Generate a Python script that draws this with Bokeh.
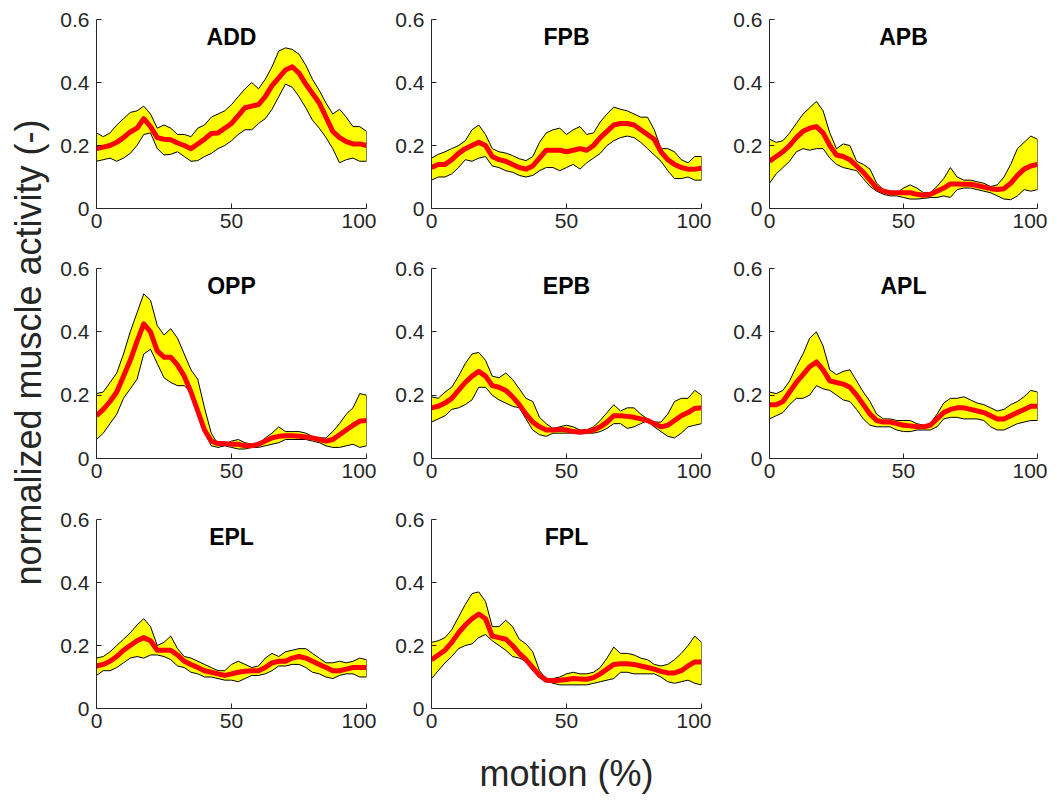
import math
from bokeh.plotting import figure
from bokeh.models import Range1d, FixedTicker, Label
from bokeh.layouts import column, row
from bokeh.embed import file_html
from bokeh.resources import INLINE

# ---------------- data ----------------
x_pct = [0, 2.5, 5, 7.5, 10, 12.5, 15, 17.5, 20, 22.5, 25, 27.5, 30, 32.5, 35, 37.5, 40,
         42.5, 45, 47.5, 50, 52.5, 55, 57.5, 60, 62.5, 65, 67.5, 70, 72.5, 75, 77.5, 80,
         82.5, 85, 87.5, 90, 92.5, 95, 97.5, 100]

muscles = ["ADD", "FPB", "APB", "OPP", "EPB", "APL", "EPL", "FPL"]

ADD_mean = [0.19, 0.195, 0.20, 0.21, 0.225, 0.243, 0.255, 0.285, 0.26, 0.225, 0.22, 0.218, 0.208, 0.20,
            0.19, 0.205, 0.22, 0.238, 0.24, 0.255, 0.27, 0.295, 0.32, 0.325, 0.33, 0.355, 0.39, 0.415,
            0.44, 0.45, 0.43, 0.395, 0.365, 0.335, 0.29, 0.245, 0.225, 0.212, 0.205, 0.205, 0.20]
ADD_upper = [0.24, 0.228, 0.24, 0.265, 0.285, 0.305, 0.31, 0.325, 0.30, 0.255, 0.265, 0.255, 0.235, 0.235,
             0.228, 0.255, 0.265, 0.29, 0.30, 0.31, 0.33, 0.355, 0.38, 0.40, 0.38, 0.41, 0.45, 0.50,
             0.51, 0.505, 0.49, 0.455, 0.41, 0.375, 0.335, 0.30, 0.315, 0.29, 0.26, 0.26, 0.245]
ADD_lower = [0.15, 0.155, 0.16, 0.15, 0.16, 0.175, 0.20, 0.235, 0.24, 0.19, 0.17, 0.172, 0.18, 0.165,
             0.15, 0.152, 0.165, 0.175, 0.19, 0.20, 0.215, 0.235, 0.25, 0.25, 0.27, 0.285, 0.315, 0.355,
             0.395, 0.385, 0.355, 0.32, 0.28, 0.255, 0.225, 0.19, 0.145, 0.155, 0.16, 0.15, 0.15]

FPB_mean = [0.13, 0.14, 0.14, 0.155, 0.175, 0.19, 0.20, 0.21, 0.20, 0.165, 0.155, 0.15, 0.14, 0.13,
            0.125, 0.135, 0.16, 0.185, 0.185, 0.185, 0.18, 0.185, 0.19, 0.185, 0.20, 0.225, 0.245, 0.265,
            0.27, 0.27, 0.265, 0.25, 0.235, 0.22, 0.18, 0.155, 0.14, 0.13, 0.125, 0.125, 0.128]
FPB_upper = [0.16, 0.172, 0.18, 0.19, 0.20, 0.215, 0.25, 0.265, 0.235, 0.19, 0.18, 0.176, 0.168, 0.158,
             0.152, 0.165, 0.21, 0.24, 0.25, 0.255, 0.235, 0.25, 0.26, 0.235, 0.24, 0.275, 0.30, 0.322,
             0.315, 0.31, 0.30, 0.29, 0.29, 0.25, 0.19, 0.19, 0.18, 0.155, 0.145, 0.165, 0.165]
FPB_lower = [0.09, 0.10, 0.10, 0.11, 0.13, 0.155, 0.15, 0.16, 0.165, 0.135, 0.13, 0.12, 0.115, 0.105,
             0.10, 0.105, 0.12, 0.13, 0.13, 0.12, 0.13, 0.14, 0.125, 0.145, 0.16, 0.175, 0.20, 0.215,
             0.225, 0.23, 0.225, 0.21, 0.19, 0.17, 0.15, 0.12, 0.095, 0.095, 0.10, 0.09, 0.09]

APB_mean = [0.15, 0.165, 0.18, 0.20, 0.225, 0.245, 0.255, 0.26, 0.24, 0.20, 0.17, 0.165, 0.155, 0.135,
            0.115, 0.09, 0.065, 0.055, 0.05, 0.05, 0.05, 0.05, 0.045, 0.042, 0.045, 0.055, 0.065, 0.078,
            0.078, 0.077, 0.077, 0.073, 0.068, 0.063, 0.06, 0.063, 0.08, 0.105, 0.125, 0.135, 0.14]
APB_upper = [0.22, 0.21, 0.215, 0.24, 0.27, 0.30, 0.32, 0.34, 0.31, 0.24, 0.19, 0.205, 0.20, 0.15,
             0.14, 0.125, 0.08, 0.06, 0.05, 0.05, 0.065, 0.075, 0.065, 0.05, 0.05, 0.07, 0.095, 0.13,
             0.10, 0.09, 0.09, 0.085, 0.08, 0.07, 0.075, 0.10, 0.14, 0.19, 0.21, 0.23, 0.22]
APB_lower = [0.08, 0.11, 0.13, 0.15, 0.18, 0.19, 0.185, 0.19, 0.19, 0.16, 0.14, 0.13, 0.125, 0.12,
             0.095, 0.07, 0.055, 0.045, 0.04, 0.04, 0.035, 0.03, 0.03, 0.032, 0.035, 0.035, 0.04, 0.035,
             0.06, 0.065, 0.065, 0.06, 0.055, 0.05, 0.04, 0.03, 0.028, 0.04, 0.06, 0.055, 0.06]

OPP_mean = [0.135, 0.155, 0.18, 0.21, 0.26, 0.31, 0.37, 0.425, 0.40, 0.34, 0.32, 0.32, 0.295, 0.26,
            0.21, 0.15, 0.09, 0.055, 0.047, 0.047, 0.045, 0.045, 0.04, 0.04, 0.045, 0.055, 0.065, 0.07,
            0.072, 0.072, 0.07, 0.068, 0.065, 0.06, 0.055, 0.06, 0.075, 0.09, 0.105, 0.118, 0.12]
OPP_upper = [0.205, 0.21, 0.24, 0.27, 0.33, 0.40, 0.46, 0.52, 0.50, 0.42, 0.39, 0.41, 0.38, 0.33,
             0.28, 0.25, 0.16, 0.08, 0.045, 0.045, 0.055, 0.06, 0.05, 0.045, 0.045, 0.065, 0.08, 0.10,
             0.085, 0.085, 0.085, 0.08, 0.07, 0.065, 0.065, 0.085, 0.11, 0.14, 0.16, 0.205, 0.20]
OPP_lower = [0.06, 0.08, 0.11, 0.14, 0.19, 0.22, 0.25, 0.33, 0.345, 0.30, 0.255, 0.24, 0.23, 0.23,
             0.21, 0.14, 0.085, 0.04, 0.035, 0.04, 0.035, 0.03, 0.03, 0.035, 0.035, 0.04, 0.045, 0.05,
             0.06, 0.06, 0.06, 0.06, 0.055, 0.05, 0.04, 0.035, 0.035, 0.04, 0.045, 0.035, 0.04]

EPB_mean = [0.16, 0.165, 0.175, 0.19, 0.215, 0.24, 0.26, 0.275, 0.26, 0.23, 0.225, 0.215, 0.195, 0.17,
            0.14, 0.115, 0.10, 0.09, 0.09, 0.092, 0.09, 0.085, 0.083, 0.085, 0.09, 0.10, 0.115, 0.135,
            0.135, 0.133, 0.13, 0.125, 0.12, 0.11, 0.10, 0.105, 0.12, 0.135, 0.145, 0.158, 0.16]
EPB_upper = [0.195, 0.19, 0.21, 0.225, 0.26, 0.30, 0.33, 0.335, 0.31, 0.26, 0.255, 0.27, 0.25, 0.22,
             0.19, 0.18, 0.13, 0.11, 0.095, 0.10, 0.105, 0.10, 0.09, 0.09, 0.10, 0.12, 0.145, 0.17,
             0.15, 0.16, 0.16, 0.14, 0.125, 0.115, 0.115, 0.14, 0.18, 0.19, 0.19, 0.215, 0.20]
EPB_lower = [0.115, 0.125, 0.135, 0.155, 0.16, 0.17, 0.185, 0.225, 0.225, 0.20, 0.185, 0.175, 0.165, 0.16,
             0.125, 0.09, 0.075, 0.07, 0.08, 0.08, 0.08, 0.08, 0.08, 0.08, 0.08, 0.085, 0.095, 0.11,
             0.11, 0.095, 0.10, 0.11, 0.12, 0.10, 0.085, 0.07, 0.065, 0.08, 0.10, 0.105, 0.11]

APL_mean = [0.17, 0.17, 0.18, 0.21, 0.24, 0.265, 0.29, 0.305, 0.28, 0.245, 0.24, 0.235, 0.225, 0.20,
            0.17, 0.14, 0.12, 0.115, 0.115, 0.11, 0.105, 0.103, 0.10, 0.10, 0.105, 0.125, 0.145, 0.155,
            0.16, 0.16, 0.155, 0.15, 0.145, 0.135, 0.125, 0.125, 0.135, 0.145, 0.155, 0.165, 0.165]
APL_upper = [0.21, 0.205, 0.215, 0.245, 0.29, 0.33, 0.38, 0.40, 0.355, 0.28, 0.265, 0.275, 0.28, 0.245,
             0.21, 0.18, 0.14, 0.125, 0.125, 0.12, 0.12, 0.12, 0.11, 0.105, 0.11, 0.14, 0.175, 0.19,
             0.19, 0.195, 0.185, 0.175, 0.17, 0.16, 0.15, 0.155, 0.17, 0.18, 0.195, 0.215, 0.21]
APL_lower = [0.125, 0.135, 0.145, 0.17, 0.19, 0.19, 0.20, 0.23, 0.22, 0.215, 0.20, 0.185, 0.18, 0.155,
             0.125, 0.105, 0.10, 0.10, 0.10, 0.09, 0.085, 0.085, 0.09, 0.09, 0.09, 0.10, 0.125, 0.13,
             0.13, 0.125, 0.125, 0.125, 0.12, 0.10, 0.09, 0.09, 0.10, 0.11, 0.115, 0.12, 0.12]

EPL_mean = [0.135, 0.14, 0.15, 0.165, 0.185, 0.20, 0.215, 0.225, 0.215, 0.185, 0.185, 0.185, 0.17, 0.15,
            0.14, 0.13, 0.12, 0.115, 0.11, 0.105, 0.11, 0.115, 0.118, 0.12, 0.12, 0.13, 0.145, 0.15,
            0.15, 0.16, 0.165, 0.16, 0.15, 0.14, 0.13, 0.12, 0.12, 0.125, 0.13, 0.13, 0.13]
EPL_upper = [0.16, 0.165, 0.18, 0.20, 0.22, 0.24, 0.265, 0.285, 0.26, 0.20, 0.21, 0.23, 0.19, 0.165,
             0.16, 0.15, 0.14, 0.13, 0.12, 0.12, 0.14, 0.15, 0.14, 0.13, 0.135, 0.16, 0.175, 0.165,
             0.18, 0.185, 0.19, 0.19, 0.175, 0.16, 0.145, 0.145, 0.15, 0.145, 0.15, 0.16, 0.155]
EPL_lower = [0.105, 0.12, 0.12, 0.13, 0.145, 0.16, 0.165, 0.16, 0.17, 0.17, 0.165, 0.155, 0.135, 0.13,
             0.115, 0.11, 0.10, 0.10, 0.095, 0.09, 0.09, 0.085, 0.095, 0.105, 0.105, 0.11, 0.12, 0.135,
             0.135, 0.14, 0.14, 0.13, 0.115, 0.11, 0.10, 0.095, 0.105, 0.11, 0.11, 0.10, 0.10]

FPL_mean = [0.155, 0.17, 0.185, 0.21, 0.24, 0.265, 0.285, 0.30, 0.285, 0.23, 0.225, 0.22, 0.20, 0.175,
            0.155, 0.13, 0.105, 0.09, 0.088, 0.09, 0.092, 0.095, 0.094, 0.093, 0.098, 0.11, 0.125, 0.14,
            0.142, 0.142, 0.14, 0.135, 0.13, 0.125, 0.118, 0.113, 0.113, 0.12, 0.135, 0.148, 0.148]
FPL_upper = [0.21, 0.215, 0.225, 0.25, 0.29, 0.33, 0.365, 0.37, 0.34, 0.26, 0.26, 0.28, 0.26, 0.22,
             0.205, 0.18, 0.12, 0.095, 0.095, 0.10, 0.11, 0.115, 0.11, 0.11, 0.115, 0.13, 0.16, 0.195,
             0.175, 0.175, 0.17, 0.16, 0.155, 0.14, 0.135, 0.14, 0.155, 0.175, 0.20, 0.23, 0.21]
FPL_lower = [0.095, 0.12, 0.145, 0.165, 0.19, 0.20, 0.205, 0.225, 0.235, 0.215, 0.20, 0.185, 0.165, 0.16,
             0.15, 0.12, 0.10, 0.09, 0.08, 0.075, 0.075, 0.075, 0.075, 0.075, 0.08, 0.085, 0.09, 0.095,
             0.115, 0.115, 0.11, 0.11, 0.11, 0.11, 0.10, 0.085, 0.08, 0.085, 0.09, 0.08, 0.075]

x_ticks = [0, 50, 100]
y_ticks = [0, 0.2, 0.4, 0.6]
y_tick_labels = ["0", "0.2", "0.4", "0.6"]
x_label = "motion (%)"
y_label = "normalized muscle activity (-)"

series = {
    "ADD": (ADD_mean, ADD_upper, ADD_lower),
    "FPB": (FPB_mean, FPB_upper, FPB_lower),
    "APB": (APB_mean, APB_upper, APB_lower),
    "OPP": (OPP_mean, OPP_upper, OPP_lower),
    "EPB": (EPB_mean, EPB_upper, EPB_lower),
    "APL": (APL_mean, APL_upper, APL_lower),
    "EPL": (EPL_mean, EPL_upper, EPL_lower),
    "FPL": (FPL_mean, FPL_upper, FPL_lower),
}
for k, v in series.items():
    for arr in v:
        assert len(arr) == len(x_pct), (k, len(arr))

# ---------------- layout ----------------
FONT = "Liberation Sans"
TXT = "#262626"
LABEL_W = 52
col_left = [44, 55, 58]
col_frame = [270, 270, 268]
col_right = [10, 10, 10]
row_top = [19, 20, 21]
row_frame = [189, 190, 189]
row_bottom = [40, 40, 91]
TOTAL_H = sum(row_top) + sum(row_frame) + sum(row_bottom)


def make_panel(name, ci, ri):
    mean, upper, lower = series[name]
    p = figure(width=col_left[ci] + col_frame[ci] + col_right[ci],
               height=row_top[ri] + row_frame[ri] + row_bottom[ri],
               x_range=Range1d(0, 100), y_range=Range1d(0, 0.6),
               output_backend="svg", toolbar_location=None,
               min_border_left=col_left[ci], min_border_right=col_right[ci],
               min_border_top=row_top[ri], min_border_bottom=row_bottom[ri])
    p.outline_line_color = None
    p.background_fill_color = "white"
    p.border_fill_color = "white"
    p.grid.visible = False

    px = list(x_pct) + list(x_pct)[::-1]
    py = list(upper) + list(lower)[::-1]
    p.patch(px, py, fill_color="#FFFF00", line_color="black", line_width=1)
    p.line(x_pct, mean, line_color="#FF0000", line_width=5, line_join="round")

    p.xaxis.ticker = FixedTicker(ticks=x_ticks)
    p.yaxis.ticker = FixedTicker(ticks=y_ticks)
    p.yaxis.major_label_overrides = dict(zip(y_ticks, y_tick_labels))
    for ax in (p.xaxis, p.yaxis):
        ax.axis_line_color = TXT
        ax.axis_line_width = 1
        ax.major_tick_line_color = TXT
        ax.major_tick_in = 5
        ax.major_tick_out = 0
        ax.minor_tick_line_color = None
        ax.major_label_text_font = FONT
        ax.major_label_text_font_size = "21px"
        ax.major_label_text_color = TXT
    p.yaxis.major_label_standoff = 7
    p.xaxis.major_label_standoff = 5

    p.add_layout(Label(x=50, y=0.6, text=name, text_align="center", text_baseline="top",
                       y_offset=-4, text_font=FONT, text_font_style="bold",
                       text_font_size="23px", text_color="black"))
    return p


panels = []
for i, name in enumerate(muscles):
    panels.append(make_panel(name, i % 3, i // 3))

bot_mid = panels[7]
bot_mid.xaxis.axis_label = x_label
bot_mid.xaxis.axis_label_text_font = FONT
bot_mid.xaxis.axis_label_text_font_style = "normal"
bot_mid.xaxis.axis_label_text_font_size = "36px"
bot_mid.xaxis.axis_label_text_color = TXT
bot_mid.xaxis.axis_label_standoff = 22

# narrow figure carrying the shared y label
lab = figure(width=LABEL_W, height=TOTAL_H, x_range=Range1d(0, LABEL_W), y_range=Range1d(0, TOTAL_H),
             x_axis_type=None, y_axis_type=None, output_backend="svg", toolbar_location=None,
             min_border=0, min_border_left=0, min_border_right=0, min_border_top=0, min_border_bottom=0)
lab.outline_line_color = None
lab.grid.visible = False
lab.add_layout(Label(x=28, y=TOTAL_H - 352, text=y_label, angle=math.pi / 2,
                     text_align="center", text_baseline="middle",
                     text_font=FONT, text_font_size="36px", text_color=TXT))

grid = column(row(*panels[0:3]), row(*panels[3:6]), row(*panels[6:8]))
layout = row(lab, grid)

open("out.html", "w").write(file_html(layout, INLINE))
